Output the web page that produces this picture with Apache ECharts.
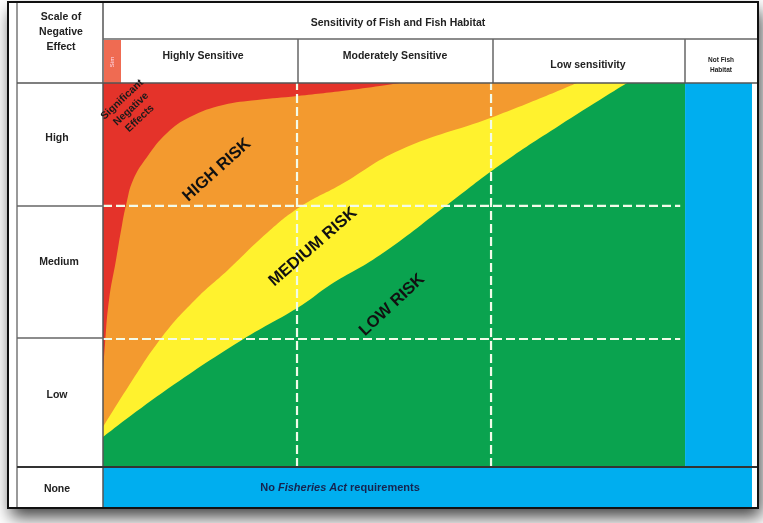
<!DOCTYPE html>
<html>
<head>
<meta charset="utf-8">
<script src="https://cdn.jsdelivr.net/npm/echarts@6/dist/echarts.min.js"></script>
<style>
  html, body { margin: 0; padding: 0; background: #fff; }
  #chart { width: 763px; height: 523px; }
</style>
</head>
<body>
<div id="chart"></div>
<script>
// sensitivity scale: 0-1 highly, 1-2 moderately, 2-3 low, 3-3.345 not fish habitat
// effect scale: 0-1 low, 1-2 medium, 2-3 high, below 0 = none
const sensMax = 3.345;
const effectMin = -0.3125;

const columnBreaks = [1, 2];
const rowBreaks = [1.0, 2.04];

// boundary curves [sensitivity, effect]
const redEdge = [[0, 0.742], [0.010, 0.953], [0.031, 1.305], [0.067, 1.617], [0.098, 1.891],
  [0.119, 2.047], [0.155, 2.242], [0.227, 2.422], [0.330, 2.609], [0.448, 2.734],
  [0.619, 2.828], [0.794, 2.867], [1.0, 2.898], [1.273, 2.945], [1.531, 3.0]];
const orangeEdge = [[0, 0.3125], [0.129, 0.625], [0.304, 1.016], [0.474, 1.305], [0.644, 1.539],
  [0.845, 1.828], [1.015, 2.031], [1.222, 2.203], [1.531, 2.477], [2.010, 2.734], [2.443, 3.0]];
const yellowEdge = [[0, 0.234], [0.304, 0.578], [0.716, 0.992], [1.026, 1.266], [1.170, 1.422],
  [1.428, 1.656], [1.773, 2.047], [2.046, 2.359], [2.356, 2.672], [2.701, 3.0]];

// cells [x0, y0, x1, y1]
const cells = [[0, 0, 3, 3], [3, 0, sensMax, 3], [0, effectMin, sensMax, 0]];
const cellColors = ['#0aa34f', '#00aeef', '#00aeef'];

const columnLabels = ['Highly Sensitive', 'Moderately Sensitive', 'Low sensitivity', 'Not Fish\nHabitat'];
const rowLabels = ['High', 'Medium', 'Low', 'None'];

const FONT = '"Liberation Sans", Arial, sans-serif';

let chart = echarts.init(document.getElementById('chart'));

function zone(name, data, color) {
  return {
    name: name,
    type: 'line',
    data: data,
    smooth: 0.45,
    symbol: 'none',
    silent: true,
    z: 3,
    lineStyle: { width: 0 },
    areaStyle: { color: color, opacity: 1, origin: 'end' }
  };
}

let dividers = [];
columnBreaks.forEach(function (c) { dividers.push([c, 0, c, 3]); });
rowBreaks.forEach(function (r) { dividers.push([0, r, 2.975, r]); });

function txt(x, y, text, size, extra) {
  return {
    type: 'text', x: x, y: y, z: 120,
    style: Object.assign({
      text: text, fill: '#222', fontSize: size, fontWeight: 'bold', fontFamily: FONT,
      align: 'center', verticalAlign: 'middle'
    }, extra || {})
  };
}
function ln(x1, y1, x2, y2, color, w) {
  return { type: 'line', z: 110, shape: { x1: x1, y1: y1, x2: x2, y2: y2 },
    style: { stroke: color || '#666', lineWidth: w || 1.5 } };
}

const deg = Math.PI / 180;

let option = {
  animation: false,
  grid: { left: 103, top: 83, width: 649, height: 424 },
  xAxis: { type: 'value', min: 0, max: sensMax, show: false },
  yAxis: { type: 'value', min: effectMin, max: 3, show: false },
  series: [
    {
      name: 'cells',
      type: 'custom',
      silent: true,
      z: 1,
      data: cells,
      renderItem: function (params, api) {
        const p0 = api.coord([api.value(0), api.value(3)]);
        const p1 = api.coord([api.value(2), api.value(1)]);
        return { type: 'rect', shape: { x: p0[0], y: p0[1], width: p1[0] - p0[0], height: p1[1] - p0[1] },
          style: { fill: cellColors[params.dataIndex] } };
      }
    },
    zone('Medium risk', yellowEdge, '#fff22e'),
    zone('High risk', orangeEdge, '#f39a2f'),
    zone('Significant negative effects', redEdge, '#e4332a'),
    {
      name: 'dividers',
      type: 'custom',
      silent: true,
      z: 5,
      data: dividers,
      renderItem: function (params, api) {
        const a = api.coord([api.value(0), api.value(1)]);
        const b = api.coord([api.value(2), api.value(3)]);
        return { type: 'line', shape: { x1: a[0], y1: a[1], x2: b[0], y2: b[1] },
          style: { stroke: '#f2fbe9', lineWidth: 2.2, lineDash: [9, 4] } };
      }
    }
  ],
  graphic: [
    // page frame with shadow
    { type: 'rect', z: -10, shape: { x: 8, y: 2, width: 750, height: 506 },
      style: { fill: '#fff', shadowBlur: 16, shadowOffsetY: 9, shadowOffsetX: 3, shadowColor: 'rgba(0,0,0,0.75)' } },
    { type: 'rect', z: 130, shape: { x: 8, y: 2, width: 750, height: 506 },
      style: { fill: null, stroke: '#111', lineWidth: 2 } },
    ln(17, 3, 17, 508, '#777', 1.5),
    ln(103, 3, 103, 508, '#555', 1.5),
    ln(103, 39, 757, 39, '#666', 1.5),
    ln(298, 39, 298, 83, '#666', 1.5),
    ln(493, 39, 493, 83, '#666', 1.5),
    ln(685, 39, 685, 83, '#666', 1.5),
    ln(17, 83, 757, 83, '#555', 1.5),
    ln(17, 206, 103, 206, '#666', 1.5),
    ln(17, 338, 103, 338, '#666', 1.5),
    ln(17, 467, 757, 467, '#333', 2),
    // small red header box
    { type: 'rect', z: 105, shape: { x: 104, y: 40, width: 17, height: 43 }, style: { fill: '#ef6b52' } },
    Object.assign(txt(112.5, 62, 'Sim', 6, { fill: '#fde', fontWeight: 'normal' }), { rotation: 90 * deg }),
    // headers
    txt(61, 17, 'Scale of', 10.5),
    txt(61, 32, 'Negative', 10.5),
    txt(61, 47, 'Effect', 10.5),
    txt(398, 23, 'Sensitivity of Fish and Fish Habitat', 10.5),
    txt(203, 56, columnLabels[0], 10.5),
    txt(395, 56, columnLabels[1], 10.5),
    txt(588, 65, columnLabels[2], 10.5),
    txt(721, 65, columnLabels[3], 6.5, { lineHeight: 10 }),
    txt(57, 138, rowLabels[0], 10.5),
    txt(59, 262, rowLabels[1], 10.5),
    txt(57, 395, rowLabels[2], 10.5),
    txt(57, 489, rowLabels[3], 10.5),
    // zone labels
    Object.assign(txt(131, 109, 'Significant\nNegative\nEffects', 10.5, { lineHeight: 13, fill: '#1a1a1a' }), { rotation: 43 * deg }),
    Object.assign(txt(217, 170, 'HIGH RISK', 16.5, { fill: '#111' }), { rotation: 42 * deg }),
    Object.assign(txt(313, 247, 'MEDIUM RISK', 16.5, { fill: '#111' }), { rotation: 41 * deg }),
    Object.assign(txt(392, 305, 'LOW RISK', 16.5, { fill: '#111' }), { rotation: 43 * deg }),
    {
      type: 'text', x: 340, y: 488, z: 120,
      style: {
        text: '{a|No }{b|Fisheries Act}{a| requirements}',
        align: 'center', verticalAlign: 'middle',
        rich: {
          a: { fontSize: 11, fontWeight: 'bold', fontFamily: FONT, fill: '#15244f' },
          b: { fontSize: 11, fontWeight: 'bold', fontStyle: 'italic', fontFamily: FONT, fill: '#15244f' }
        }
      }
    }
  ]
};

chart.setOption(option);
</script>
</body>
</html>
